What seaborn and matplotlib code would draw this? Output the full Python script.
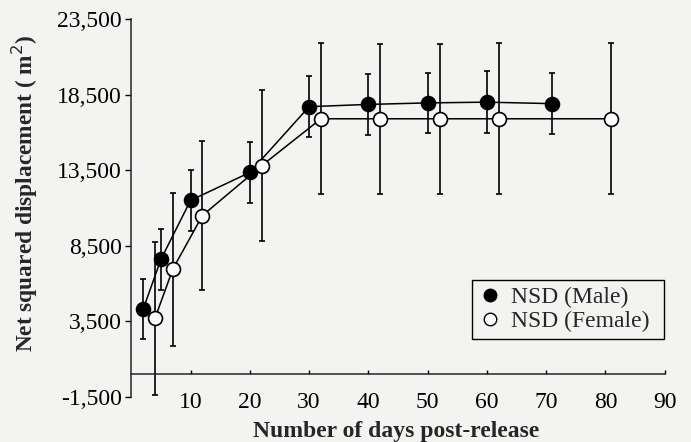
import pandas as pd
import matplotlib
matplotlib.use("Agg")
import matplotlib.pyplot as plt
import seaborn as sns
from matplotlib.lines import Line2D

# values
male_days = [2, 5, 10, 20, 30, 40, 50, 60, 71]
male_nsd = [4300, 7600, 11500, 13350, 17700, 17850, 17950, 18000, 17900]
male_err = [2000, 2000, 2000, 2000, 2000, 2000, 1980, 2030, 2000]

female_days = [4, 7, 12, 22, 32, 42, 52, 62, 81]
female_nsd = [3700, 6950, 10500, 13800, 16900, 16900, 16900, 16900, 16900]
female_err = [5050, 5050, 4950, 5000, 5000, 4950, 4950, 5000, 5000]

x_ticks = [10, 20, 30, 40, 50, 60, 70, 80, 90]
y_ticks = [-1500, 3500, 8500, 13500, 18500, 23500]
y_labels = ["-1,500", "3,500", "8,500", "13,500", "18,500", "23,500"]

male = pd.DataFrame({"day": male_days, "nsd": male_nsd, "err": male_err})
female = pd.DataFrame({"day": female_days, "nsd": female_nsd, "err": female_err})

sns.set_style("ticks")
plt.rcParams["font.family"] = ["Liberation Serif", "DejaVu Serif"]
bg = "#f3f3f1"

fig = plt.figure(figsize=(6.91, 4.42), dpi=100, facecolor=bg)
ax = fig.add_axes([0.19, 0.102, 0.772, 0.855], facecolor=bg)

for df, face in [(male, "black"), (female, "white")]:
    ax.errorbar(df["day"], df["nsd"], yerr=df["err"], fmt="none",
                ecolor="black", elinewidth=1.2, capsize=2.5, capthick=1.2, zorder=2)
    sns.lineplot(data=df, x="day", y="nsd", color="black", linewidth=1.1,
                 marker="o", markersize=10, markerfacecolor=face,
                 markeredgecolor="black", markeredgewidth=1.2, ax=ax, zorder=3)

ax.set_xlim(0, 90)
ax.set_ylim(-1500, 23500)

ax.spines["top"].set_visible(False)
ax.spines["right"].set_visible(False)
ax.spines["bottom"].set_position(("data", 0))
ax.spines["left"].set_linewidth(1.1)
ax.spines["bottom"].set_linewidth(1.1)

ax.set_xticks(x_ticks)
ax.set_yticks(y_ticks, labels=y_labels)
ax.tick_params(axis="x", direction="in", length=3, width=1, pad=13, labelsize=17, colors="black")
ax.tick_params(axis="y", direction="out", length=4, width=1, pad=3, labelsize=17, colors="black")

ax.set_xlabel("Number of days post-release", fontsize=17, fontweight="bold")
ax.set_ylabel("Net squared displacement ( m$^2$)", fontsize=16.8, fontweight="bold")
ax.xaxis.set_label_coords(0.496, -0.063)
ax.yaxis.set_label_coords(-0.172, 0.54)

handles = [
    Line2D([], [], linestyle="none", marker="o", markersize=9, markerfacecolor="black",
           markeredgecolor="black"),
    Line2D([], [], linestyle="none", marker="o", markersize=9, markerfacecolor="white",
           markeredgecolor="black"),
]
leg = ax.legend(handles, ["NSD (Male)", "NSD (Female)"], loc="upper left",
                bbox_to_anchor=(0.639, 0.146, 0.36, 0.164), mode="expand",
                fontsize=17, frameon=True, fancybox=False,
                handletextpad=0.45, handlelength=0.9, borderpad=0.3, labelspacing=0.08,
                borderaxespad=0, edgecolor="black", facecolor=bg, framealpha=1)
leg.get_frame().set_linewidth(1.0)

fig.savefig("out.png", dpi=100, facecolor=bg)
